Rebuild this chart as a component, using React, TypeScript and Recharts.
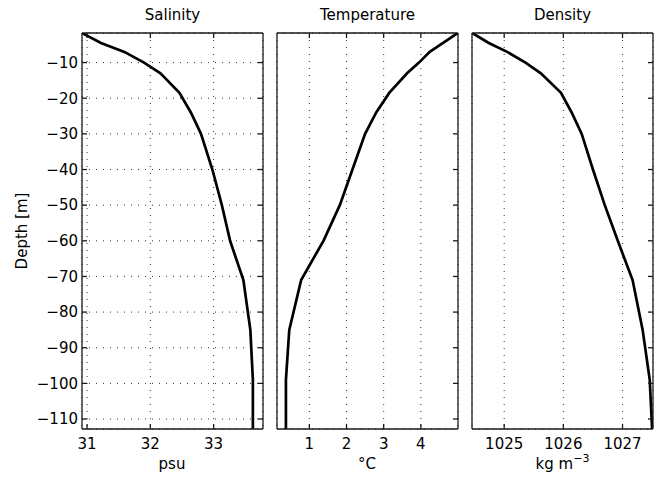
import { LineChart, Line, XAxis, YAxis, CartesianGrid } from 'recharts'

const depth = [-1.7, -4.5, -7, -10, -13, -18.5, -24, -30, -40, -50, -60, -71, -85, -99, -112.8]
const salinity = [30.92, 31.22, 31.59, 31.9, 32.16, 32.46, 32.64, 32.8, 32.98, 33.13, 33.26, 33.47, 33.58, 33.62, 33.62]
const temperature = [4.99, 4.6, 4.24, 3.95, 3.63, 3.15, 2.8, 2.5, 2.16, 1.82, 1.38, 0.78, 0.46, 0.37, 0.37]
const density = [1024.46, 1024.74, 1025.05, 1025.36, 1025.62, 1025.96, 1026.14, 1026.31, 1026.5, 1026.7, 1026.92, 1027.17, 1027.34, 1027.46, 1027.5]

const depthTicks = [-110, -100, -90, -80, -70, -60, -50, -40, -30, -20, -10]
const depthDomain = [-112.8, -1.7]
const salinityTicks = [31, 32, 33]
const temperatureTicks = [1, 2, 3, 4]
const densityTicks = [1025, 1026, 1027]

const FONT = '"DejaVu Sans", sans-serif'
const AXIS = '#1a1a1a'
const minus = (v: number) => (v < 0 ? `\u2212${Math.abs(v)}` : `${v}`)
const blank = () => ''

type PanelProps = {
  values: number[]
  domain: number[]
  ticks: number[]
  plotLeft: number
  labels: boolean
}

function Panel({ values, domain, ticks, plotLeft, labels }: PanelProps) {
  const rows = depth.map((d, i) => ({ depth: d, value: values[i] }))
  const yw = labels ? 82 : 7
  const tickStyle = { fill: '#000', fontSize: 15, fontFamily: FONT }
  return (
    <div style={{ position: 'absolute', left: plotLeft - yw, top: 0 }}>
      <LineChart
        width={yw + 181 + 2}
        height={481}
        layout='vertical'
        data={rows}
        margin={{ top: 32, right: 1, bottom: 22, left: 0 }}
      >
        <CartesianGrid stroke='#333' strokeDasharray='1 6' />
        <XAxis
          type='number'
          dataKey='value'
          domain={domain}
          ticks={ticks}
          allowDataOverflow
          height={30}
          tickSize={-5}
          tickMargin={14}
          tick={tickStyle}
          stroke={AXIS}
          strokeWidth={1.3}
        />
        <XAxis
          xAxisId='top'
          orientation='top'
          type='number'
          dataKey='value'
          domain={domain}
          ticks={ticks}
          allowDataOverflow
          height={1}
          tickSize={-5}
          tickFormatter={blank}
          stroke={AXIS}
          strokeWidth={1.3}
        />
        <YAxis
          type='number'
          dataKey='depth'
          domain={depthDomain}
          ticks={depthTicks}
          allowDataOverflow
          reversed
          width={yw}
          tickSize={-5}
          tickMargin={9}
          tick={labels ? tickStyle : false}
          tickFormatter={minus}
          stroke={AXIS}
          strokeWidth={1.3}
        />
        <YAxis
          yAxisId='right'
          orientation='right'
          type='number'
          dataKey='depth'
          domain={depthDomain}
          ticks={depthTicks}
          allowDataOverflow
          reversed
          width={1}
          tickSize={-5}
          tickFormatter={blank}
          stroke={AXIS}
          strokeWidth={1.3}
        />
        <Line
          xAxisId='top'
          yAxisId='right'
          dataKey='value'
          stroke='none'
          dot={false}
          legendType='none'
          isAnimationActive={false}
        />
        <Line
          dataKey='value'
          stroke='#000'
          strokeWidth={2.7}
          dot={false}
          isAnimationActive={false}
        />
      </LineChart>
    </div>
  )
}

export default function App() {
  return (
    <div style={{ position: 'absolute', left: 0, top: 0, width: 657, height: 481, background: '#fff' }}>
      <Panel values={salinity} domain={[30.92, 33.78]} ticks={salinityTicks} plotLeft={82} labels />
      <Panel values={temperature} domain={[0.13, 5.0]} ticks={temperatureTicks} plotLeft={277} labels={false} />
      <Panel values={density} domain={[1024.456, 1027.515]} ticks={densityTicks} plotLeft={472} labels={false} />
      <svg
        width={657}
        height={481}
        style={{ position: 'absolute', left: 0, top: 0, pointerEvents: 'none' }}
        fontFamily={FONT}
        fontSize={15}
        fill='#000'
      >
        <text x={172.5} y={19.5} textAnchor='middle'>Salinity</text>
        <text x={367.5} y={19.5} textAnchor='middle'>Temperature</text>
        <text x={562.5} y={19.5} textAnchor='middle'>Density</text>
        <text x={172} y={469} textAnchor='middle'>psu</text>
        <text x={367} y={469} textAnchor='middle'>°C</text>
        <text x={562.5} y={469} textAnchor='middle'>
          kg m<tspan dy={-7} fontSize={11}>−3</tspan>
        </text>
        <text transform='translate(27,231) rotate(-90)' textAnchor='middle'>Depth [m]</text>
      </svg>
    </div>
  )
}
